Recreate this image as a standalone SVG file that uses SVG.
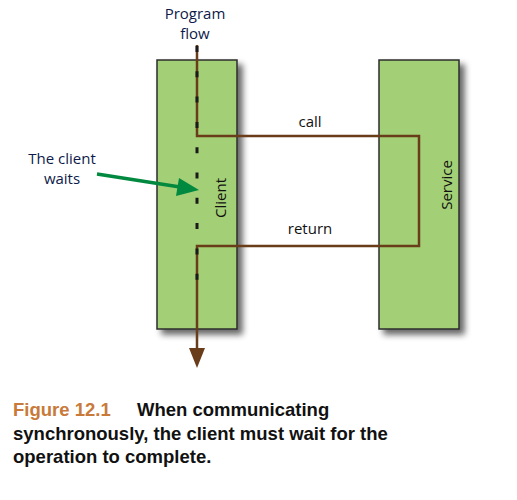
<svg xmlns="http://www.w3.org/2000/svg" width="517" height="500" viewBox="0 0 517 500">
<defs>
<style>
.box{fill:#a3d076;stroke:#2b2b2b;stroke-width:1.5}
.lbl{font-family:"Open Sans","Liberation Sans",sans-serif;font-size:15px;fill:#111}
.note{font-family:"Open Sans","Liberation Sans",sans-serif;font-size:15px;fill:#0d1a4a}
.flow{fill:none;stroke:#6a3d1a;stroke-width:2.5}
.dash{fill:none;stroke:#1a1a1a;stroke-width:3;stroke-dasharray:6 19.3}
.cap{font-family:"Liberation Sans",Arial,sans-serif;font-size:18.5px;font-weight:bold;fill:#111}
</style>
<filter id="sh" x="-20%" y="-10%" width="150%" height="130%">
<feGaussianBlur in="SourceAlpha" stdDeviation="3"/>
<feOffset dx="5" dy="5" result="b"/>
<feComponentTransfer><feFuncA type="linear" slope="0.6"/></feComponentTransfer>
<feMerge><feMergeNode/><feMergeNode in="SourceGraphic"/></feMerge>
</filter>
</defs>
<rect width="517" height="500" fill="#fff"/>
<g id="client">
<rect class="box" x="157" y="60" width="80" height="269" filter="url(#sh)"/>
<text class="lbl" transform="translate(221,198) rotate(-90)" text-anchor="middle" dy="5">Client</text>
</g>
<g id="service">
<rect class="box" x="379" y="60" width="80" height="269" filter="url(#sh)"/>
<text class="lbl" transform="translate(447,185) rotate(-90)" text-anchor="middle" dy="5">Service</text>
</g>
<g id="connectors">
<path class="flow" d="M197,45 V136 H419 V246 H197 V350"/>
<path d="M189,348 L205,348 L197,368 Z" fill="#6a3d1a"/>
<path class="dash" d="M197,46 V282"/>
<text class="lbl" x="310" y="127" text-anchor="middle">call</text>
<text class="lbl" x="310" y="234" text-anchor="middle">return</text>
<line x1="97" y1="174" x2="180" y2="187" stroke="#00893f" stroke-width="3.5"/>
<path d="M199,190 L176,196 L179,178 Z" fill="#00893f"/>
</g>
<g id="labels">
<text class="note" x="195" y="19" text-anchor="middle">Program</text>
<text class="note" x="195" y="39" text-anchor="middle">flow</text>
<text class="note" x="62" y="164" text-anchor="middle">The client</text>
<text class="note" x="62" y="184" text-anchor="middle">waits</text>
</g>
<g id="caption">
<text class="cap" x="13" y="416"><tspan fill="#c87a3a">Figure 12.1</tspan><tspan x="137">When communicating</tspan></text>
<text class="cap" x="13" y="440">synchronously, the client must wait for the</text>
<text class="cap" x="13" y="463">operation to complete.</text>
</g>
</svg>
